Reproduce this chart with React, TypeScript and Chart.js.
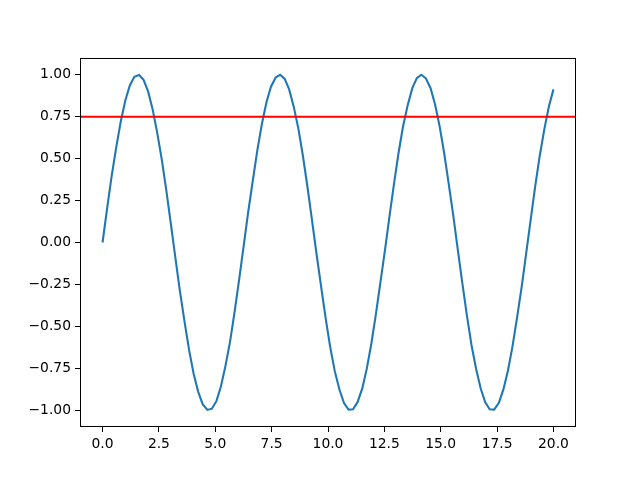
import React, { useEffect, useRef } from "react";
import { Chart, registerables } from "chart.js";

Chart.register(...registerables);

const XS: number[] = [
  0.0, 0.2, 0.4, 0.61, 0.81, 1.01, 1.21, 1.41, 1.62, 1.82,
  2.02, 2.22, 2.42, 2.63, 2.83, 3.03, 3.23, 3.43, 3.64, 3.84,
  4.04, 4.24, 4.44, 4.65, 4.85, 5.05, 5.25, 5.45, 5.66, 5.86,
  6.06, 6.26, 6.46, 6.67, 6.87, 7.07, 7.27, 7.47, 7.68, 7.88,
  8.08, 8.28, 8.48, 8.69, 8.89, 9.09, 9.29, 9.49, 9.7, 9.9,
  10.1, 10.3, 10.51, 10.71, 10.91, 11.11, 11.31, 11.52, 11.72, 11.92,
  12.12, 12.32, 12.53, 12.73, 12.93, 13.13, 13.33, 13.54, 13.74, 13.94,
  14.14, 14.34, 14.55, 14.75, 14.95, 15.15, 15.35, 15.56, 15.76, 15.96,
  16.16, 16.36, 16.57, 16.77, 16.97, 17.17, 17.37, 17.58, 17.78, 17.98,
  18.18, 18.38, 18.59, 18.79, 18.99, 19.19, 19.39, 19.6, 19.8, 20.0,
];

const YS: number[] = [
  0.0, 0.201, 0.393, 0.57, 0.723, 0.847, 0.936, 0.988, 0.999, 0.97,
  0.901, 0.795, 0.658, 0.493, 0.309, 0.111, -0.09, -0.289, -0.475, -0.642,
  -0.782, -0.889, -0.964, -0.998, -0.991, -0.946, -0.859, -0.737, -0.588, -0.411,
  -0.22, -0.02, 0.181, 0.374, 0.554, 0.708, 0.836, 0.929, 0.984, 1.0,
  0.975, 0.911, 0.81, 0.676, 0.514, 0.331, 0.134, -0.067, -0.267, -0.455,
  -0.625, -0.767, -0.878, -0.957, -0.996, -0.994, -0.952, -0.87, -0.752, -0.605,
  -0.432, -0.242, -0.042, 0.159, 0.353, 0.535, 0.693, 0.822, 0.92, 0.98,
  1.0, 0.979, 0.92, 0.823, 0.694, 0.535, 0.354, 0.157, -0.045, -0.244,
  -0.435, -0.608, -0.754, -0.869, -0.951, -0.994, -0.996, -0.956, -0.876, -0.765,
  -0.622, -0.452, -0.264, -0.065, 0.137, 0.334, 0.516, 0.679, 0.812, 0.913,
];

const HLINE_Y = 0.75;
const X_TICKS = [0, 2.5, 5, 7.5, 10, 12.5, 15, 17.5, 20];
const Y_TICKS = [-1, -0.75, -0.5, -0.25, 0, 0.25, 0.5, 0.75, 1];
const X_MIN = -1;
const X_MAX = 21;
const Y_MIN = -1.1;
const Y_MAX = 1.1;

const FONT = { family: "DejaVu Sans", size: 13.89 };
const fmt = (v: number, d: number) => v.toFixed(d).replace("-", "\u2212");

export default function App() {
  const ref = useRef<HTMLCanvasElement | null>(null);

  useEffect(() => {
    document.body.style.margin = "0";
    const canvas = ref.current;
    if (!canvas) return;

    const framePlugin = {
      id: "frameAndHline",
      afterDatasetsDraw(chart: any) {
        const { ctx, chartArea, scales } = chart;
        const y = scales.y.getPixelForValue(HLINE_Y);
        ctx.save();
        ctx.beginPath();
        ctx.rect(chartArea.left, chartArea.top, chartArea.right - chartArea.left, chartArea.bottom - chartArea.top);
        ctx.clip();
        ctx.strokeStyle = "#ff0000";
        ctx.lineWidth = 2.08;
        ctx.beginPath();
        ctx.moveTo(chartArea.left, y);
        ctx.lineTo(chartArea.right, y);
        ctx.stroke();
        ctx.restore();
      },
      afterDraw(chart: any) {
        const { ctx, chartArea } = chart;
        ctx.save();
        ctx.strokeStyle = "#000";
        ctx.lineWidth = 1;
        const l = Math.round(chartArea.left);
        const t = Math.round(chartArea.top);
        const r = Math.round(chartArea.right);
        const b = Math.round(chartArea.bottom);
        ctx.strokeRect(l + 0.5, t + 0.5, r - l - 1, b - t - 1);
        ctx.restore();
      },
    };

    const chart = new Chart(canvas, {
      type: "line",
      data: {
        datasets: [
          {
            data: XS.map((x, i) => ({ x, y: YS[i] })),
            borderColor: "#1f77b4",
            borderWidth: 2.08,
            pointRadius: 0,
            tension: 0,
            fill: false,
          },
        ],
      },
      options: {
        responsive: false,
        animation: false,
        events: [],
        layout: { padding: { left: 0, top: 58, right: 64, bottom: 0 } },
        plugins: { legend: { display: false }, tooltip: { enabled: false } },
        scales: {
          x: {
            type: "linear",
            min: X_MIN,
            max: X_MAX,
            afterBuildTicks: (s: any) => {
              s.ticks = X_TICKS.map((v) => ({ value: v }));
            },
            afterFit: (s: any) => {
              s.height = 53;
            },
            grid: { drawOnChartArea: false, drawTicks: true, tickLength: 5, color: "#000" },
            border: { display: false },
            ticks: {
              color: "#000",
              font: FONT,
              padding: 4,
              maxRotation: 0,
              autoSkip: false,
              callback: (v: any) => fmt(Number(v), 1),
            },
          },
          y: {
            type: "linear",
            min: Y_MIN,
            max: Y_MAX,
            afterBuildTicks: (s: any) => {
              s.ticks = Y_TICKS.map((v) => ({ value: v }));
            },
            afterFit: (s: any) => {
              s.width = 80;
            },
            grid: { drawOnChartArea: false, drawTicks: true, tickLength: 5, color: "#000" },
            border: { display: false },
            ticks: {
              color: "#000",
              font: FONT,
              padding: 4,
              autoSkip: false,
              callback: (v: any) => fmt(Number(v), 2),
            },
          },
        },
      },
      plugins: [framePlugin],
    });

    return () => chart.destroy();
  }, []);

  return <canvas ref={ref} width={640} height={480} style={{ display: "block" }} />;
}
